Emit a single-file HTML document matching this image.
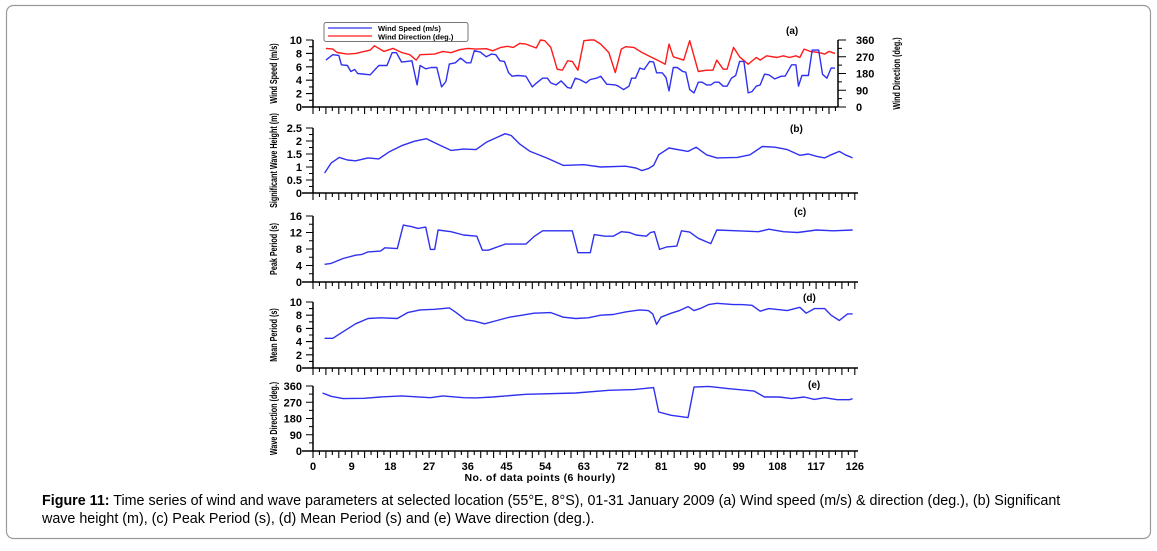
<!DOCTYPE html>
<html><head><meta charset="utf-8"><style>
body{margin:0;background:#fff;width:1157px;height:546px;overflow:hidden;font-family:"Liberation Sans",Arial,sans-serif}
svg text{font-family:"Liberation Sans",Arial,sans-serif}
</style></head><body>
<svg id="fig" width="1157" height="546" viewBox="0 0 1157 546" xmlns="http://www.w3.org/2000/svg">
<rect x="6.5" y="5.5" width="1144" height="533" rx="7" fill="#fff" stroke="#9a9a9a" stroke-width="1.2"/>
<g id="charts"></g>
<text x="540" y="481" font-size="10.5" font-weight="bold" text-anchor="middle" letter-spacing="0.4">No. of data points (6 hourly)</text>
<text x="42" y="505" font-size="14.3"><tspan font-weight="bold">Figure 11:</tspan> Time series of wind and wave parameters at selected location (55°E, 8°S), 01-31 January 2009 (a) Wind speed (m/s) &amp; direction (deg.), (b) Significant</text>
<text x="42" y="523" font-size="14.3">wave height (m), (c) Peak Period (s), (d) Mean Period (s) and (e) Wave direction (deg.).</text>
</svg>
<script>
// ---- data (x = data point number, value) ----
const wsX=[3,4.6,6,6.6,8,8.8,9.7,10.4,13.3,15.3,17.2,18.4,19.4,20.6,23,24.2,24.9,26.2,27.5,28.8,29.9,30.9,31.7,33.1,34.3,35.7,36.7,37.5,38.9,40.3,41.5,42.5,43.5,44.5,45.5,46.3,47.6,49.5,51,52,53.4,54.5,55.3,56.5,57.7,59.2,60,61,62,63.5,64.5,65.9,66.9,68.3,70.3,71,72.2,73.5,74.1,75,76,77,78.3,79.2,79.9,81.2,82.1,82.8,83.8,84.7,86,86.7,87.6,88.6,89.6,90.5,91.5,92.5,93.4,94.4,95.4,96.3,97.3,98.3,99.2,100.2,101.2,102.1,103.1,104,105,106,107.4,108.9,109.8,111.3,112.3,112.9,113.7,115.2,116.1,117.6,118.5,119.5,120.5,121.4];
const wsV=[7.0,7.8,7.7,6.3,6.2,5.3,5.6,5.0,4.8,6.2,6.2,8.1,8.1,6.7,6.9,3.3,6.2,5.7,5.9,5.9,3.0,3.8,6.4,6.6,7.3,6.6,6.6,8.4,8.2,7.5,7.9,7.8,6.9,6.8,5.1,4.6,4.7,4.6,3.0,3.6,4.3,4.3,3.6,3.3,3.9,2.9,2.8,4.3,4.1,3.6,4.1,4.3,4.6,3.4,3.3,3.1,2.6,3.1,4.3,4.3,5.8,5.6,6.8,6.7,5.1,5.1,4.4,2.4,5.9,5.9,5.3,5.2,2.6,2.1,3.7,3.7,3.3,3.3,3.7,3.7,3.1,3.1,4.3,4.7,6.8,6.8,2.1,2.3,3.1,3.3,4.9,4.8,4.2,4.6,4.6,6.3,6.3,3.1,4.7,4.7,8.5,8.5,4.9,4.3,5.8,5.8];
const wdX=[3,4.6,5.6,8,10,11.9,13.3,14.3,16.5,18.6,20.6,22.5,24,24.9,28.3,30.2,32.1,34.1,36,37.9,40.3,41.8,43.7,45.2,46.6,48.1,49.5,51.9,52.9,53.9,55.3,56.8,58,59.2,60.3,61.6,63,64.5,65.4,66.9,68.8,70.3,71.7,72.7,74.6,76.5,78.5,80.4,81.9,82.8,83.8,86.2,87.6,89.6,91.5,93,93.9,95.4,96.3,97.8,99.2,101.2,103.1,104,105.5,107.9,109.4,110.8,112.3,113.2,114.2,115.6,117.6,119,120,121.4];
const wdV=[315,311,293,284,288,299,306,329,299,315,293,281,252,281,284,299,292,308,315,311,313,302,320,326,320,342,338,317,360,356,320,203,198,248,245,198,356,360,360,338,293,185,311,324,320,293,270,248,230,338,270,252,356,191,198,198,252,203,203,320,270,230,266,252,275,266,275,266,275,266,311,299,293,284,299,288];
const hsX=[2.7,4.2,6.1,8,9.9,12.8,15.3,17.7,20.6,23.5,26.4,29.2,32.1,35,37.9,40.3,42.8,44.7,46.1,48.1,50.5,54.3,58.2,63,66.9,72.7,75.1,76.5,78,79.2,80.4,82.8,87.2,89.1,91.5,93.9,98.7,101.6,104.5,107.4,110.3,113.2,115.2,117.1,119,120.5,122.4,123.8,125.5];
const hsV=[0.77,1.15,1.37,1.27,1.24,1.35,1.31,1.58,1.82,1.99,2.09,1.86,1.64,1.69,1.67,1.95,2.14,2.28,2.21,1.88,1.6,1.35,1.06,1.09,1.0,1.03,0.96,0.86,0.94,1.06,1.47,1.73,1.6,1.76,1.47,1.35,1.37,1.47,1.79,1.76,1.67,1.45,1.5,1.41,1.35,1.47,1.6,1.47,1.35];
const tpX=[2.7,4.2,7,9.9,11.4,12.8,15.7,16.7,19.6,21,23,24.4,26.2,27.3,28.3,29.1,32.1,35,38.1,39.4,40.8,44.7,49.5,51.4,53.4,57.2,60.3,61.6,64.5,65.4,67.9,69.8,71.7,73.6,75.1,77.5,78.5,79.4,80.6,82.3,84.6,85.7,87.6,89.6,92.5,93.9,98.7,103.6,106,109.4,112.7,117.1,121,125.5];
const tpV=[4.3,4.5,5.7,6.5,6.7,7.3,7.5,8.3,8.1,13.8,13.4,13.0,13.3,7.9,7.9,12.6,12.2,11.4,11.1,7.7,7.7,9.2,9.2,11.0,12.4,12.4,12.4,7.1,7.1,11.5,11.1,11.1,12.2,12.0,11.4,11.1,12.0,12.2,7.9,8.5,8.7,12.4,12.1,10.6,9.3,12.6,12.4,12.2,12.8,12.2,12.0,12.6,12.4,12.6];
const tmX=[2.7,4.6,7,9.9,12.8,15.7,19.6,22,24.9,28.3,31.7,33.1,35.5,37.5,39.9,42.8,45.7,48.6,51.4,55.3,58.2,61.1,64,66.9,69.8,72.7,76,78,79,79.9,80.9,83.3,85.2,87.2,88.6,90,92,93.9,97.8,99.7,102.1,104,106,110.3,113.2,114.7,116.6,119,120.5,122.4,124.3,125.5];
const tmV=[4.5,4.5,5.5,6.7,7.5,7.6,7.5,8.4,8.8,8.9,9.1,8.5,7.3,7.1,6.7,7.2,7.7,8.0,8.3,8.4,7.7,7.5,7.6,8.0,8.1,8.5,8.8,8.7,8.2,6.6,7.7,8.3,8.7,9.3,8.7,9.0,9.6,9.8,9.6,9.6,9.5,8.6,9.0,8.7,9.2,8.3,9.0,9.0,8.0,7.2,8.2,8.2];
const wvX=[2.2,4.2,7,11.9,15.7,20.6,27.3,30.2,35,37.9,41.8,49.5,61.1,68.8,74.6,79.2,80.4,83.3,87.2,88.6,92,96.8,102.6,105,108.4,111.3,114.2,116.6,119,121.9,124.8,125.5];
const wvV=[321,303,290,292,299,305,295,305,295,294,299,314,321,336,340,351,216,198,185,354,358,345,332,299,299,290,299,286,295,284,284,290];
const yTicksA=[0,2,4,6,8,10], yTicksAR=[0,90,180,270,360], yTicksB=['0','0.5','1','1.5','2','2.5'];
const yTicksC=[0,4,8,12,16], yTicksD=[0,2,4,6,8,10], yTicksE=[0,90,180,270,360];
const xTickLabels=[0,9,18,27,36,45,54,63,72,81,90,99,108,117,126];

const NS='http://www.w3.org/2000/svg';
const g=document.getElementById('charts');
const X0=313, XS=4.3;
const BLUE='#3030f0';
const xs=v=>X0+v*XS;
function el(tag,attrs,parent){const e=document.createElementNS(NS,tag);for(const k in attrs)e.setAttribute(k,attrs[k]);(parent||g).appendChild(e);return e;}
function yScale(top,bot,max){return v=>bot-(v/max)*(bot-top);}
function panel(name,top,bot,max,ticks,xEnd,title,tag,tagX,tagY){
  const grp=el('g',{});
  
  
  const ys=yScale(top,bot,max);
  const ax=el('path',{d:`M${X0} ${top}V${bot}M302 ${bot}H${xEnd}`,stroke:'#000','stroke-width':1.5,fill:'none'},grp);
  
  
  let d='';
  for(let i=0;i<ticks.length;i++){const v=parseFloat(ticks[i]);d+=`M${X0-7} ${ys(v)}H${X0}`;
    if(i<ticks.length-1){const nv=parseFloat(ticks[i+1]);d+=`M${X0-4} ${ys((v+nv)/2)}H${X0}`;}}
  for(let t=0;xs(t)<=xEnd+0.5;t+=3){d+=`M${xs(t)} ${bot}V${bot+7}`;}
  for(let t=1.5;xs(t)<=xEnd;t+=3){d+=`M${xs(t)} ${bot}V${bot+4}`;}
  const tk=el('path',{d:d,stroke:'#000','stroke-width':1.1,fill:'none'},grp);
  
  
  ticks.forEach(t=>{const tx=el('text',{x:X0-11,y:ys(parseFloat(t))+4,'font-size':11,'font-weight':'bold','text-anchor':'end'},grp);tx.textContent=t;
    
    });
  const cy=(top+bot)/2;
  const tt=el('text',{x:0,y:0,'font-size':10,'font-weight':'bold','text-anchor':'middle',transform:`translate(277 ${cy}) rotate(-90) scale(0.72 1)`},grp);
  tt.textContent=title;
  
  
  const lb=el('text',{x:tagX,y:tagY,'font-size':10,'font-weight':'bold'},grp);lb.textContent=tag;
  
  
  return {grp,ys};
}
function line(grp,name,xsArr,vals,ys,color){
  let d='';xsArr.forEach((x,i)=>{d+=(i?'L':'M')+xs(x).toFixed(1)+' '+ys(vals[i]).toFixed(1);});
  const p=el('path',{d:d,stroke:color,'stroke-width':1.4,fill:'none','stroke-linejoin':'round'},grp);
  
  
}
// panel a
const A=panel('wind-speed',40,107,10,yTicksA,838,'Wind Speed (m/s)','(a)',786,34);
const ysAR=yScale(40,107,360);
const ra=el('path',{d:'M838 40V107',stroke:'#000','stroke-width':1.5},A.grp);


let rd='';yTicksAR.forEach((t,i)=>{rd+=`M838 ${ysAR(t)}H846`;if(i<4)rd+=`M838 ${ysAR(t+45)}H842`;});
el('path',{d:rd,stroke:'#000','stroke-width':1.1},A.grp);
yTicksAR.forEach(t=>{const tx=el('text',{x:856,y:ysAR(t)+4,'font-size':11,'font-weight':'bold'},A.grp);tx.textContent=t;
  
  });
const rt=el('text',{x:0,y:0,'font-size':10,'font-weight':'bold','text-anchor':'middle',transform:'translate(900 73.5) rotate(-90) scale(0.72 1)'},A.grp);
rt.textContent='Wind Direction (deg.)';


line(A.grp,'wind-direction-line',wdX,wdV,ysAR,'#ff1a1a');
line(A.grp,'wind-speed-line',wsX,wsV,A.ys,BLUE);
// legend
const lg=el('g',{});


el('rect',{x:324,y:22.5,width:144,height:19,fill:'#fff',stroke:'#777','stroke-width':1,rx:2},lg);
el('path',{d:'M328 28H372',stroke:BLUE,'stroke-width':1.2},lg);
el('path',{d:'M328 36H372',stroke:'#ff1a1a','stroke-width':1.2},lg);
const l1=el('text',{x:378,y:31,'font-size':7.5,'font-weight':'bold'},lg);l1.textContent='Wind Speed (m/s)';


const l2=el('text',{x:378,y:39.5,'font-size':7.5,'font-weight':'bold'},lg);l2.textContent='Wind Direction (deg.)';


// panel b
const B=panel('wave-height',128,193,2.5,yTicksB,858,'Significant Wave Height (m)','(b)',790,132);
line(B.grp,'wave-height-line',hsX,hsV,B.ys,BLUE);
// panel c
const C=panel('peak-period',216,282,16,yTicksC,858,'Peak Period (s)','(c)',794,215);
line(C.grp,'peak-period-line',tpX,tpV,C.ys,BLUE);
// panel d
const D=panel('mean-period',302,368,10,yTicksD,858,'Mean Period (s)','(d)',803,301);
line(D.grp,'mean-period-line',tmX,tmV,D.ys,BLUE);
// panel e
const E=panel('wave-direction',386,451,360,yTicksE,858,'Wave Direction (deg.)','(e)',808,388);
line(E.grp,'wave-direction-line',wvX,wvV,E.ys,BLUE);
xTickLabels.forEach(t=>{const tx=el('text',{x:xs(t),y:470,'font-size':11,'font-weight':'bold','text-anchor':'middle'});tx.textContent=t;
  
  });
</script>
</body></html>
